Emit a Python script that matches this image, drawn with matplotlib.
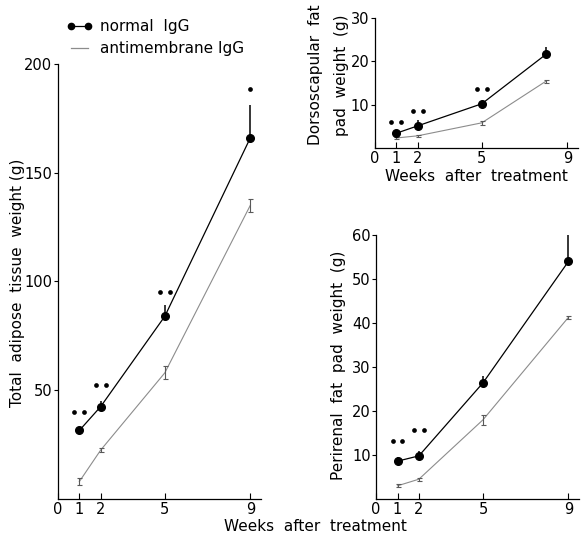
import matplotlib.pyplot as plt
from matplotlib.lines import Line2D

plt.rcParams['font.family'] = ['DejaVu Sans']

# --- data ---
weeks = [1, 2, 5, 9]
weeks_ds = [1, 2, 5, 8]

# total adipose tissue (g)
total_normal = [31.5, 42.5, 84, 166]
total_normal_err = [1.5, 2.5, 5, 15]
total_anti = [8, 22.5, 58, 135]
total_anti_err = [1.5, 1, 3, 3]
total_sig_y = [40, 52.5, 95, 188.5]
total_sig_n = [2, 2, 2, 1]

# dorsoscapular fat pad (g)
ds_normal = [3.4, 5.1, 10.2, 21.6]
ds_normal_err = [0.8, 1.3, 0.6, 1.8]
ds_anti = [2.3, 2.8, 5.8, 15.4]
ds_anti_err = [0.3, 0.3, 0.4, 0.3]
ds_sig_y = [5.9, 8.5, 13.6]

# perirenal fat pad (g)
pr_normal = [8.6, 9.8, 26.4, 54]
pr_normal_err = [0.9, 1.1, 1.6, 6.5]
pr_anti = [3, 4.5, 18, 41.3]
pr_anti_err = [0.3, 0.3, 1.2, 0.3]
pr_sig_y = [13.2, 15.7]

xticks = [0, 1, 2, 5, 9]

fig = plt.figure(figsize=(5.85, 5.38), dpi=100)
ax1 = fig.add_axes([0.0991, 0.0725, 0.347, 0.8086])
ax2 = fig.add_axes([0.641, 0.725, 0.347, 0.2416])
ax3 = fig.add_axes([0.643, 0.0725, 0.347, 0.4907])


def panel(ax, x, normal, nerr, anti, aerr, ymax, yticks):
    ax.plot(x, anti, color='0.55', lw=0.8)
    ax.errorbar(x, anti, yerr=aerr, fmt='none', ecolor='0.35',
                elinewidth=0.8, capsize=1.8, capthick=0.8)
    ax.errorbar(x, normal, yerr=[[0] * len(nerr), nerr], fmt='-o',
                color='black', ms=5.5, lw=0.9, elinewidth=1.1, capsize=0)
    ax.set_xlim(0, 9.5)
    ax.set_ylim(0, ymax)
    ax.set_xticks(xticks)
    ax.set_yticks(yticks)
    for s in ['top', 'right']:
        ax.spines[s].set_visible(False)
    for s in ['left', 'bottom']:
        ax.spines[s].set_linewidth(0.9)
    ax.tick_params(axis='x', direction='in', length=4, width=0.8, pad=2,
                   labelsize=10.5)
    ax.tick_params(axis='y', direction='out', length=3, width=0.8, pad=1,
                   labelsize=10.5)
    ax.patch.set_alpha(0)


def sig(ax, x, y, n):
    # significance dots: pairs (or single) above the points
    for xi, yi, ni in zip(x, y, n):
        xs = [xi - 0.23, xi + 0.23] if ni == 2 else [xi]
        ax.plot(xs, [yi] * len(xs), 'o', color='black', ms=3.4, mew=0)


panel(ax1, weeks, total_normal, total_normal_err, total_anti, total_anti_err,
      200, [50, 100, 150, 200])
sig(ax1, weeks, total_sig_y, total_sig_n)
ax1.set_ylabel('Total  adipose  tissue  weight (g)', fontsize=11)
ax1.yaxis.set_label_coords(-0.163, 0.497)

panel(ax2, weeks_ds, ds_normal, ds_normal_err, ds_anti, ds_anti_err,
      30, [10, 20, 30])
sig(ax2, weeks_ds[:3], ds_sig_y, [2, 2, 2])
ax2.set_xlabel('Weeks  after  treatment', fontsize=11, labelpad=2)
ax2.set_ylabel('Dorsoscapular  fat\npad  weight  (g)', fontsize=11,
               linespacing=1.9)
ax2.yaxis.set_label_coords(-0.13, 0.56)

panel(ax3, weeks, pr_normal, pr_normal_err, pr_anti, pr_anti_err,
      60, [10, 20, 30, 40, 50, 60])
sig(ax3, weeks[:2], pr_sig_y, [2, 2])
ax3.set_ylabel('Perirenal  fat  pad  weight  (g)', fontsize=11)
ax3.yaxis.set_label_coords(-0.148, 0.507)

fig.text(0.54, 0.022, 'Weeks  after  treatment', ha='center', va='center',
         fontsize=11)

handles = [
    Line2D([], [], color='black', lw=0.9, marker='o', ms=4.5),
    Line2D([], [], color='0.55', lw=0.9),
]
fig.legend(handles, ['normal  IgG', 'antimembrane IgG'], loc='upper left',
           bbox_to_anchor=(0.09, 0.99), frameon=False, fontsize=11,
           numpoints=2, handlelength=1.7, handletextpad=0.5, labelspacing=0.45)

fig.savefig('out.png', dpi=100)
